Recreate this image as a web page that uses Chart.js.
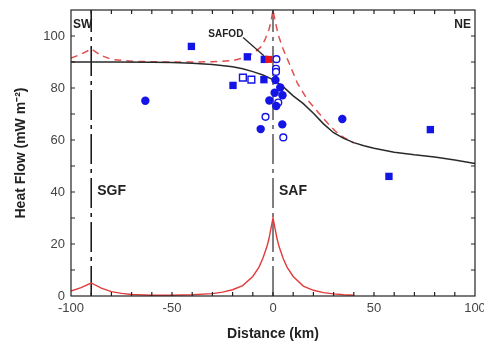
<!DOCTYPE html>
<html>
<head>
<meta charset="UTF-8">
<title>Heat Flow</title>
<script src="https://cdn.jsdelivr.net/npm/chart.js"></script>
<style>
  html, body { margin: 0; padding: 0; background: #fff; }
  canvas { display: block; }
</style>
</head>
<body>
<canvas id="chart" width="484" height="348"></canvas>
<script>
// measured heat flow sites (distance km, mW m-2)
const filledSquares = [[-40.4, 96], [-12.7, 92], [-19.8, 81], [-4.3, 91], [-4.5, 83.2], [57.4, 46], [77.9, 64]];
const openSquares = [[-14.9, 84], [-10.7, 83.2]];
const filledCircles = [[-63.2, 75.1], [1.2, 83.1], [0.8, 78.2], [3.6, 80.2], [4.7, 77.2], [-1.8, 75.2], [1.6, 73.1], [-6.1, 64.2], [4.6, 66], [34.3, 68.1]];
const openCircles = [[1.7, 91.1], [1.5, 87.4], [1.5, 86.2], [2.6, 74.4], [-3.7, 68.9], [5.1, 61]];
const safod = [[-2.1, 91]];

// model curves
const modelX = [-100, -80, -60, -50, -40, -30, -20, -15, -10, -5, 0, 5, 10, 15, 20, 25, 30, 35, 40, 45, 50, 60, 70, 80, 90, 100];
const modelY = [90, 90, 89.9, 89.8, 89.5, 89, 88.2, 87.4, 86.3, 85, 83.2, 80.5, 77, 74, 70.3, 66.2, 62.8, 60.6, 59, 57.8, 56.8, 55.3, 54.3, 53.5, 52.3, 51];

const frictionX = [-100, -95, -90, -85, -80, -70, -60, -50, -40, -30, -20, -15, -12, -9, -6, -4, -2, -1, 0, 1, 2, 3, 5, 8, 12, 17, 22, 27, 31, 35, 40];
const frictionY = [91.5, 93, 95, 92.5, 91, 90.3, 90.1, 90, 90, 90.1, 90.5, 91.5, 92.3, 93.8, 95.8, 98.5, 102.5, 105.5, 110, 106, 102.5, 99.5, 95, 89.5, 82, 75.5, 71, 66.5, 63.3, 61, 58.8];

const anomalyX = [-100, -95, -90, -85, -80, -75, -70, -60, -50, -40, -30, -25, -20, -15, -10, -7, -5, -3, -2, -1, 0, 1, 2, 3, 5, 7, 10, 15, 20, 25, 30, 35, 40];
const anomalyY = [1.9, 3.2, 5, 3, 1.7, 1, 0.6, 0.3, 0.3, 0.5, 0.9, 1.5, 2.4, 4, 7.5, 11, 14.5, 19, 22, 26, 30, 26, 22, 19, 14.5, 11, 7.5, 3.8, 2.2, 1.3, 0.8, 0.5, 0.3];

const faults = [{ name: 'SGF', x: -90 }, { name: 'SAF', x: 0 }];

const xTicks = [-100, -50, 0, 50, 100];
const yTicks = [0, 20, 40, 60, 80, 100];

const FONT = '"Liberation Sans", Arial, sans-serif';
const BLUE = '#1414e6';

const pts = arr => arr.map(p => ({ x: p[0], y: p[1] }));
const curve = (xs, ys) => xs.map((x, i) => ({ x: x, y: ys[i] }));

function markers(data, style, radius, filled, color) {
  return {
    data: pts(data),
    pointStyle: style,
    pointRadius: radius,
    pointBackgroundColor: filled ? color : '#fff',
    pointBorderColor: color,
    pointBorderWidth: filled ? 0 : 1.4,
    showLine: false
  };
}

function line(data, color, width, dash) {
  return {
    data: data,
    showLine: true,
    borderColor: color,
    borderWidth: width,
    borderDash: dash || [],
    pointRadius: 0,
    tension: 0
  };
}

const datasets = [
  markers(safod, 'rect', 5, true, '#e81818'),
  markers(filledSquares, 'rect', 5.2, true, BLUE),
  markers(openSquares, 'rect', 4.8, false, BLUE),
  markers(filledCircles, 'circle', 4.2, true, BLUE),
  markers(openCircles, 'circle', 3.4, false, BLUE),
  line(curve(modelX, modelY), '#2a2a2a', 1.5),
  line(curve(frictionX, frictionY), '#e05050', 1.5, [7, 5]),
  line(curve(anomalyX, anomalyY), '#e03c3c', 1.4),
  line([{ x: -90, y: 0 }, { x: -90, y: 110 }], '#111', 1.5, [30, 5, 4, 5]),
  line([{ x: 0, y: 0 }, { x: 0, y: 110 }], '#555', 1.5, [30, 5, 4, 5])
];

const framePlugin = {
  id: 'frame',
  afterDraw(chart) {
    const { ctx, chartArea: a, scales } = chart;
    const xs = scales.x, ys = scales.y;
    ctx.save();
    ctx.strokeStyle = '#222';
    ctx.lineWidth = 1.2;
    ctx.strokeRect(a.left, a.top, a.right - a.left, a.bottom - a.top);
    ctx.beginPath();
    for (let v = -90; v < 100; v += 10) {
      const px = xs.getPixelForValue(v);
      ctx.moveTo(px, a.bottom); ctx.lineTo(px, a.bottom - 4);
      ctx.moveTo(px, a.top); ctx.lineTo(px, a.top + 4);
    }
    for (let v = 10; v < 110; v += 10) {
      const py = ys.getPixelForValue(v);
      ctx.moveTo(a.left, py); ctx.lineTo(a.left + 4, py);
      ctx.moveTo(a.right, py); ctx.lineTo(a.right - 4, py);
    }
    ctx.stroke();

    // annotations
    ctx.fillStyle = '#222';
    ctx.textBaseline = 'middle';
    ctx.font = 'bold 12px ' + FONT;
    ctx.textAlign = 'left';
    ctx.fillText('SW', a.left + 2, ys.getPixelForValue(104.5));
    ctx.textAlign = 'right';
    ctx.fillText('NE', a.right - 4, ys.getPixelForValue(104.5));
    ctx.font = 'bold 14px ' + FONT;
    ctx.textAlign = 'left';
    faults.forEach(f => {
      ctx.fillText(f.name, xs.getPixelForValue(f.x) + 6, ys.getPixelForValue(40.5));
    });
    ctx.font = 'bold 10px ' + FONT;
    ctx.fillText('SAFOD', xs.getPixelForValue(-32), ys.getPixelForValue(100.8));
    ctx.beginPath();
    ctx.lineWidth = 1.2;
    ctx.moveTo(xs.getPixelForValue(-14.8), ys.getPixelForValue(99.4));
    ctx.lineTo(xs.getPixelForValue(-4.5), ys.getPixelForValue(92.4));
    ctx.stroke();
    ctx.restore();
  }
};

new Chart(document.getElementById('chart'), {
  type: 'scatter',
  data: { datasets: datasets },
  options: {
    responsive: false,
    animation: false,
    devicePixelRatio: 1,
    layout: { padding: { top: 10, right: 9, left: 0, bottom: 0 } },
    plugins: { legend: { display: false }, tooltip: { enabled: false } },
    scales: {
      x: {
        type: 'linear',
        min: -100,
        max: 100,
        afterBuildTicks: s => { s.ticks = xTicks.map(v => ({ value: v })); },
        afterFit: s => { s.height = 52; s.paddingLeft = 0; s.paddingRight = 0; },
        grid: { display: false, drawTicks: false },
        border: { display: false },
        ticks: { color: '#444', font: { family: FONT, size: 13 }, padding: 5, maxRotation: 0 },
        title: { display: true, text: 'Distance (km)', color: '#222', font: { family: FONT, size: 14, weight: 'bold' }, padding: { top: 0, bottom: 5 } }
      },
      y: {
        type: 'linear',
        min: 0,
        max: 110,
        afterBuildTicks: s => { s.ticks = yTicks.map(v => ({ value: v })); },
        afterFit: s => { s.width = 71; s.paddingTop = 0; s.paddingBottom = 0; },
        grid: { display: false, drawTicks: false },
        border: { display: false },
        ticks: { color: '#444', font: { family: FONT, size: 13 }, padding: 6 },
        title: { display: true, text: 'Heat Flow (mW m\u207B\u00B2)', color: '#222', font: { family: FONT, size: 14, weight: 'bold' }, padding: { top: 13, bottom: 0 } }
      }
    }
  },
  plugins: [framePlugin]
});
</script>
</body>
</html>
